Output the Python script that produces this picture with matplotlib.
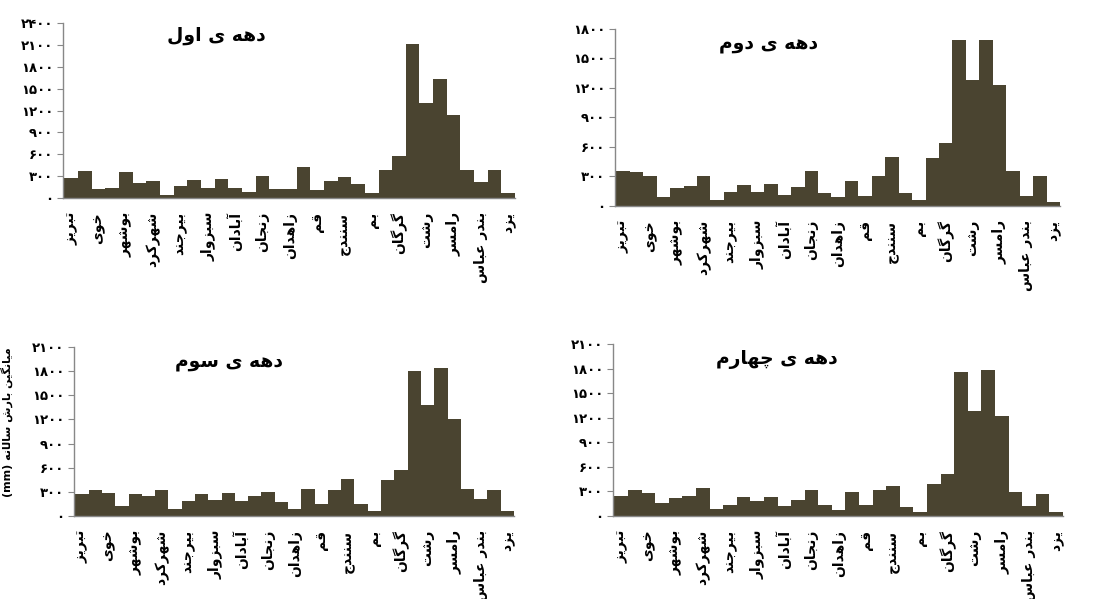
import matplotlib
matplotlib.use('Agg')
import matplotlib.pyplot as plt
from matplotlib.ticker import FuncFormatter

# Persian text has to be shaped by hand (matplotlib does no Arabic joining)
FORMS = {
    'ا': ('\uFE8D', '\uFE8E', None, None),
    'آ': ('\uFE81', '\uFE82', None, None),
    'ب': ('\uFE8F', '\uFE90', '\uFE91', '\uFE92'),
    'پ': ('\uFB56', '\uFB57', '\uFB58', '\uFB59'),
    'ت': ('\uFE95', '\uFE96', '\uFE97', '\uFE98'),
    'ج': ('\uFE9D', '\uFE9E', '\uFE9F', '\uFEA0'),
    'چ': ('\uFB7A', '\uFB7B', '\uFB7C', '\uFB7D'),
    'خ': ('\uFEA5', '\uFEA6', '\uFEA7', '\uFEA8'),
    'د': ('\uFEA9', '\uFEAA', None, None),
    'ر': ('\uFEAD', '\uFEAE', None, None),
    'ز': ('\uFEAF', '\uFEB0', None, None),
    'س': ('\uFEB1', '\uFEB2', '\uFEB3', '\uFEB4'),
    'ش': ('\uFEB5', '\uFEB6', '\uFEB7', '\uFEB8'),
    'ع': ('\uFEC9', '\uFECA', '\uFECB', '\uFECC'),
    'ق': ('\uFED5', '\uFED6', '\uFED7', '\uFED8'),
    'ک': ('\uFB8E', '\uFB8F', '\uFB90', '\uFB91'),
    'گ': ('\uFB92', '\uFB93', '\uFB94', '\uFB95'),
    'ل': ('\uFEDD', '\uFEDE', '\uFEDF', '\uFEE0'),
    'م': ('\uFEE1', '\uFEE2', '\uFEE3', '\uFEE4'),
    'ن': ('\uFEE5', '\uFEE6', '\uFEE7', '\uFEE8'),
    'ه': ('\uFEE9', '\uFEEA', '\uFEEB', '\uFEEC'),
    'و': ('\uFEED', '\uFEEE', None, None),
    'ی': ('\uFBFC', '\uFBFD', '\uFBFE', '\uFBFF'),
}


def fa(s):
    out = []
    for i, c in enumerate(s):
        if c not in FORMS:
            out.append(c)
            continue
        prev = s[i - 1] if i > 0 else ''
        nxt = s[i + 1] if i < len(s) - 1 else ''
        jp = prev in FORMS and FORMS[prev][2] is not None
        jn = FORMS[c][2] is not None and nxt in FORMS
        f = FORMS[c]
        if jp and jn:
            out.append(f[3])
        elif jp:
            out.append(f[1])
        elif jn:
            out.append(f[2])
        else:
            out.append(f[0])
    return ''.join(out[::-1])


def fa_digits(v, pos):
    return str(int(round(v))).translate(str.maketrans('0123456789', '۰۱۲۳۴۵۶۷۸۹'))


cities = ['تبریز', 'خوی', 'بوشهر', 'شهرکرد', 'بیرجند', 'سبزوار', 'آبادان', 'زنجان',
          'زاهدان', 'قم', 'سنندج', 'بم', 'گرگان', 'رشت', 'رامسر', 'بندر عباس', 'یزد']

titles = ['دهه ی اول', 'دهه ی دوم', 'دهه ی سوم', 'دهه ی چهارم']

dec1 = [280, 370, 123, 142, 361, 206, 238, 46, 169, 247, 137, 265, 137, 87, 302, 119, 123,
        425, 105, 228, 292, 192, 69, 379, 576, 2111, 1307, 1636, 1138, 379, 215, 379, 69]
dec2 = [355, 344, 310, 89, 188, 205, 303, 65, 147, 218, 147, 225, 113, 198, 355, 136, 89,
        252, 102, 303, 494, 133, 65, 488, 644, 1684, 1279, 1684, 1234, 358, 106, 303, 41]
dec3 = [269, 327, 289, 124, 273, 248, 327, 83, 182, 273, 203, 289, 182, 244, 298, 169, 87,
        339, 153, 327, 459, 153, 62, 451, 570, 1806, 1377, 1835, 1203, 339, 207, 327, 62]
dec4 = [245, 314, 285, 155, 216, 241, 339, 82, 139, 232, 179, 228, 122, 192, 314, 135, 69,
        298, 135, 314, 367, 110, 45, 396, 518, 1754, 1285, 1782, 1215, 298, 122, 273, 45]

ymax = [2400, 1800, 2100, 2100]
ylabel = '(mm) ' + fa('میانگین بارش سالانه')

plt.rcParams['font.family'] = 'DejaVu Sans'
fig = plt.figure(figsize=(10.98, 5.99), dpi=100)

boxes = [[0.0574, 0.6694, 0.4117, 0.2922],
         [0.5601, 0.6561, 0.4053, 0.2955],
         [0.0674, 0.1386, 0.4007, 0.2821],
         [0.5583, 0.1386, 0.4098, 0.2871]]
title_pos = [(0.34, 0.93), (0.344, 0.91), (0.352, 0.91), (0.364, 0.907)]
bar_color = '#4a4430'

for k, vals in enumerate([dec1, dec2, dec3, dec4]):
    ax = fig.add_axes(boxes[k])
    x = list(range(len(vals)))
    ax.bar(x, vals, width=1.0, color=bar_color, align='center')
    ax.set_xlim(-0.6, len(vals) - 0.5)
    ax.set_ylim(0, ymax[k])
    ax.set_yticks(range(0, ymax[k] + 1, 300))
    ax.yaxis.set_major_formatter(FuncFormatter(fa_digits))
    ax.set_xticks(x[::2])
    ax.set_xticklabels([fa(c) for c in cities], rotation=90, ha='center', va='top',
                       fontsize=10, fontweight='bold')
    ax.tick_params(axis='x', length=0, pad=10)
    ax.tick_params(axis='y', length=4, color='#888888', labelsize=9.5, pad=3)
    for t in ax.get_yticklabels():
        t.set_fontweight('bold')
    for s in ['top', 'right']:
        ax.spines[s].set_visible(False)
    for s in ['left', 'bottom']:
        ax.spines[s].set_color('#888888')
        ax.spines[s].set_linewidth(1.0)
    ax.text(title_pos[k][0], title_pos[k][1], fa(titles[k]), transform=ax.transAxes,
            ha='center', va='center', fontsize=13.5, fontweight='bold')

fig.text(0.0065, 0.295, ylabel, rotation=90, ha='center', va='center',
         fontsize=8, fontweight='bold')

fig.savefig('out.png', dpi=100)
